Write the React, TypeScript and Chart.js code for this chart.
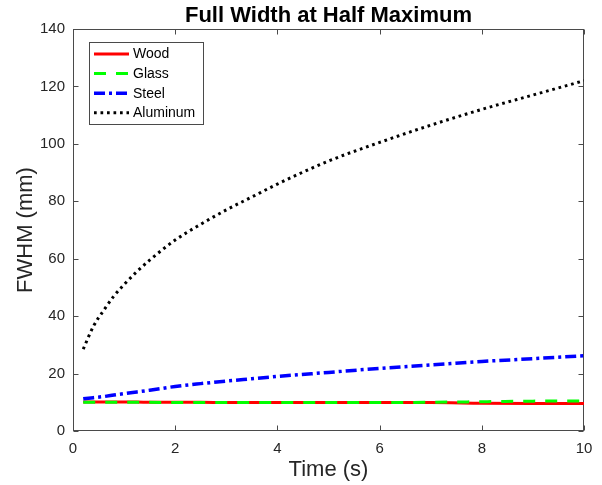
import React, { useEffect, useRef } from "react";
import { Chart, registerables } from "chart.js";

Chart.register(...registerables);

// ---- data ----
const timeS = [0.2, 0.4, 0.6, 0.8, 1, 1.25, 1.5, 2, 2.5, 3, 3.5, 4, 5, 6, 7, 8, 9, 10];
const woodFwhm = [10.1, 10.1, 10.1, 10.1, 10.1, 10.1, 10.0, 10.0, 10.0, 9.9, 9.9, 9.9, 9.9, 9.9, 9.9, 9.7, 9.6, 9.6];
const glassFwhm = [10.0, 10.0, 10.0, 10.0, 10.0, 10.0, 10.0, 9.9, 9.9, 9.9, 9.9, 9.9, 9.9, 9.9, 10.0, 10.2, 10.4, 10.5];
const steelFwhm = [11.2, 11.6, 12.0, 12.5, 13.0, 13.6, 14.2, 15.5, 16.5, 17.4, 18.2, 19.0, 20.4, 21.8, 23.0, 24.2, 25.2, 26.2];
const aluminumFwhm = [28.5, 36.5, 42.0, 47.0, 51.0, 55.5, 59.5, 66.5, 72.0, 77.0, 81.5, 86.0, 94.0, 100.5, 106.5, 112.0, 117.0, 122.0];

const seriesLabels = ["Wood", "Glass", "Steel", "Aluminum"];
const xTickValues = [0, 2, 4, 6, 8, 10];
const yTickValues = [0, 20, 40, 60, 80, 100, 120, 140];

const titleText = "Full Width at Half Maximum";
const xTitle = "Time (s)";
const yTitle = "FWHM (mm)";

const FONT = "Arial, 'Liberation Sans', Helvetica, sans-serif";
const AXIS_COLOR = "#262626";

const toPoints = (ys: number[]) => timeS.map((t, i) => ({ x: t, y: ys[i] }));

const boxTicksPlugin = {
  id: "boxTicks",
  beforeDatasetsDraw(chart: any) {
    const { ctx, chartArea } = chart;
    const { left, right, top, bottom } = chartArea;
    const xs = chart.scales.x;
    const ys = chart.scales.y;
    const L = Math.round(left) + 0.5;
    const R = Math.round(right) - 0.5;
    const T = Math.round(top) + 0.5;
    const B = Math.round(bottom) - 0.5;
    ctx.save();
    ctx.strokeStyle = "#4a4a4a";
    ctx.lineWidth = 1;
    ctx.strokeRect(L, T, R - L, B - T);
    const tl = 5;
    ctx.beginPath();
    xs.ticks.forEach((t: any) => {
      const px = Math.round(xs.getPixelForValue(t.value)) + 0.5;
      ctx.moveTo(px, B);
      ctx.lineTo(px, B - tl);
      ctx.moveTo(px, T);
      ctx.lineTo(px, T + tl);
    });
    ys.ticks.forEach((t: any) => {
      const py = Math.round(ys.getPixelForValue(t.value)) + 0.5;
      ctx.moveTo(L, py);
      ctx.lineTo(L + tl, py);
      ctx.moveTo(R, py);
      ctx.lineTo(R - tl, py);
    });
    ctx.stroke();
    ctx.restore();
  },
};

const boxLegendPlugin = {
  id: "boxLegend",
  afterDatasetsDraw(chart: any) {
    const { ctx, chartArea } = chart;
    const x0 = chartArea.left + 16;
    const y0 = chartArea.top + 13;
    const w = 114;
    const rowH = 19.6;
    const h = 82;
    ctx.save();
    ctx.fillStyle = "#ffffff";
    ctx.fillRect(x0, y0, w, h);
    ctx.strokeStyle = "#4a4a4a";
    ctx.lineWidth = 1;
    ctx.strokeRect(Math.round(x0) + 0.5, Math.round(y0) + 0.5, w, h);
    ctx.font = `14px ${FONT}`;
    ctx.textBaseline = "middle";
    ctx.textAlign = "left";
    chart.data.datasets.forEach((ds: any, i: number) => {
      const cy = y0 + 12 + i * rowH;
      ctx.save();
      ctx.strokeStyle = ds.borderColor;
      ctx.lineWidth = ds.borderWidth;
      ctx.setLineDash(ds.borderDash || []);
      ctx.beginPath();
      ctx.moveTo(x0 + 5, cy);
      ctx.lineTo(x0 + 40, cy);
      ctx.stroke();
      ctx.restore();
      ctx.fillStyle = "#000000";
      ctx.fillText(ds.label, x0 + 44, cy + 0.5);
    });
    ctx.restore();
  },
};

export default function App() {
  const canvasRef = useRef<HTMLCanvasElement | null>(null);

  useEffect(() => {
    const canvas = canvasRef.current;
    if (!canvas) return;
    const chart = new Chart(canvas, {
      type: "line",
      data: {
        datasets: [
          {
            label: seriesLabels[0],
            data: toPoints(woodFwhm),
            borderColor: "#ff0000",
            borderWidth: 3,
            borderDash: [],
            pointRadius: 0,
            cubicInterpolationMode: "monotone",
            fill: false,
            order: 4,
          },
          {
            label: seriesLabels[1],
            data: toPoints(glassFwhm),
            borderColor: "#00ff00",
            borderWidth: 3,
            borderDash: [12, 10],
            pointRadius: 0,
            cubicInterpolationMode: "monotone",
            fill: false,
            order: 3,
          },
          {
            label: seriesLabels[2],
            data: toPoints(steelFwhm),
            borderColor: "#0000ff",
            borderWidth: 3.5,
            borderDash: [11, 4, 3, 4],
            pointRadius: 0,
            cubicInterpolationMode: "monotone",
            fill: false,
            order: 2,
          },
          {
            label: seriesLabels[3],
            data: toPoints(aluminumFwhm),
            borderColor: "#000000",
            borderWidth: 3,
            borderDash: [2.7, 3.8],
            pointRadius: 0,
            cubicInterpolationMode: "monotone",
            fill: false,
            order: 1,
          },
        ] as any,
      },
      options: {
        animation: false,
        responsive: false,
        events: [],
        layout: { padding: { left: 0, right: 18, top: 0, bottom: 0 } },
        plugins: {
          legend: { display: false },
          tooltip: { enabled: false },
          title: {
            display: true,
            text: titleText,
            fullSize: false,
            color: "#000000",
            font: { family: FONT, size: 22, weight: "bold" },
            padding: { top: 2.4, bottom: 0.2 },
          },
        },
        scales: {
          x: {
            type: "linear",
            min: 0,
            max: 10,
            afterFit: (s: any) => {
              s.height = 54;
            },
            afterBuildTicks: (s: any) => {
              s.ticks = xTickValues.map((v) => ({ value: v }));
            },
            grid: { display: false, drawTicks: false },
            border: { display: false },
            ticks: {
              padding: 9,
              color: AXIS_COLOR,
              font: { family: FONT, size: 15 },
              maxRotation: 0,
            },
            title: {
              display: true,
              text: xTitle,
              color: AXIS_COLOR,
              font: { family: FONT, size: 22 },
              padding: { top: 0, bottom: 1.8 },
            },
          },
          y: {
            type: "linear",
            min: 0,
            max: 140,
            afterFit: (s: any) => {
              s.width = 73;
            },
            afterBuildTicks: (s: any) => {
              s.ticks = yTickValues.map((v) => ({ value: v }));
            },
            grid: { display: false, drawTicks: false },
            border: { display: false },
            ticks: {
              padding: 8,
              color: AXIS_COLOR,
              font: { family: FONT, size: 15 },
            },
            title: {
              display: true,
              text: yTitle,
              color: AXIS_COLOR,
              font: { family: FONT, size: 22 },
              padding: { top: 12.8, bottom: 0 },
            },
          },
        },
      } as any,
      plugins: [boxTicksPlugin, boxLegendPlugin],
    });
    return () => chart.destroy();
  }, []);

  return (
    <div style={{ position: "absolute", left: 0, top: 0, width: 602, height: 485, background: "#ffffff" }}>
      <canvas ref={canvasRef} width={602} height={485} style={{ display: "block" }} />
    </div>
  );
}
